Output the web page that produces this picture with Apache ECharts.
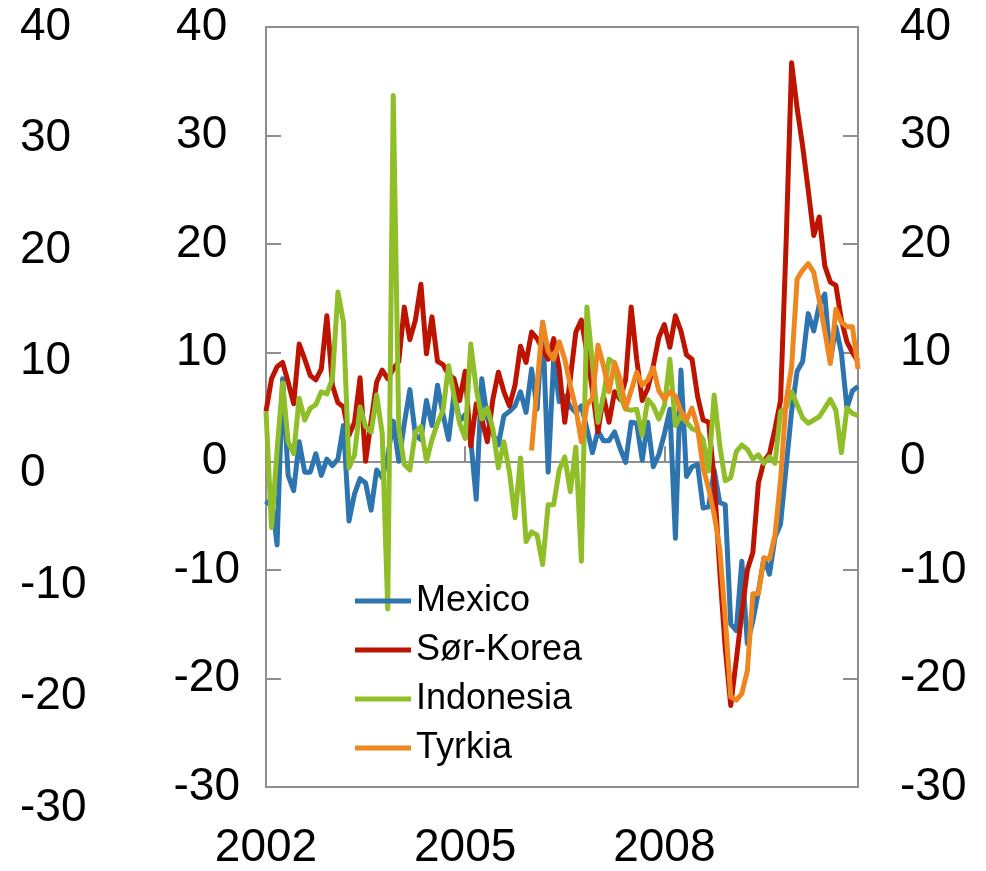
<!DOCTYPE html>
<html>
<head>
<meta charset="utf-8">
<script src="https://cdn.jsdelivr.net/npm/echarts@6/dist/echarts.min.js"></script>
<style>
  html, body { margin: 0; padding: 0; background: #fff; }
  #chart { width: 986px; height: 871px; }
</style>
</head>
<body>
<div id="chart"></div>
<script>
// monthly, Jan 2002 - Dec 2010
const startYear = 2002
const endYear = 2010
const yearLabels = ['2002', '2005', '2008']
const yTicks = [-30, -20, -10, 0, 10, 20, 30, 40]

const mexico = [
  -4.0, -3.4, -7.7, 7.6, -1.3, -2.7, 1.8, -1.0, -1.0, 0.7,
  -1.3, 0.2, -0.4, 0.2, 3.3, -5.5, -3.0, -1.6, -2.0, -4.5,
  -0.8, -1.5, 0.5, 3.7, 0.0, 3.5, 6.6, 2.4, 2.0, 5.6,
  3.3, 7.0, 4.3, 2.0, 6.3, 3.7, 4.3, 2.0, -3.5, 7.6,
  4.0, 2.5, 1.5, 4.2, 4.6, 5.1, 6.4, 4.5, 8.5, 4.8,
  12.8, -1.0, 9.5, 5.5, 6.0, 5.0, 4.5, 5.1, 3.0, 0.8,
  2.8, 1.9, 1.9, 2.7, 1.2, -0.1, 3.6, 3.5, 0.1, 3.6,
  -0.5, 0.6, 2.5, 4.8, -7.1, 8.4, -1.4, -0.5, -0.3, -4.3,
  -4.2, -0.8, -3.8, -4.0, -15.0, -15.6, -9.2, -16.8, -14.7, -12.0,
  -8.9, -10.4, -7.0, -5.8, -0.6, 4.6, 8.3, 9.2, 13.6, 12.0,
  14.4, 15.4, 9.2, 12.4, 10.0, 4.9, 6.5, 6.9
]

const korea = [
  4.6, 7.6, 8.7, 9.1, 7.3, 5.3, 10.8, 9.4, 7.9, 7.5,
  8.5, 13.4, 7.0, 5.4, 5.0, 2.4, 3.6, 7.7, 0.0, 3.7,
  7.3, 8.4, 7.6, 8.5, 9.2, 14.2, 11.2, 13.0, 16.3, 9.9,
  13.3, 9.2, 8.9, 8.0, 7.6, 5.6, 8.3, 1.4, 5.3, 3.9,
  1.8, 5.7, 8.2, 6.4, 5.1, 7.0, 10.6, 9.1, 11.9, 11.3,
  10.3, 9.4, 11.3, 8.5, 3.6, 7.6, 11.9, 13.0, 10.0, 6.5,
  2.7, 6.0, 3.6, 6.4, 5.7, 7.5, 14.2, 9.4, 5.6, 6.7,
  8.8, 11.4, 12.6, 10.5, 13.4, 12.0, 9.8, 9.4, 6.0, 3.8,
  3.6, -1.6, -10.0, -17.2, -22.5, -18.3, -14.0, -10.0, -8.4, -2.0,
  0.0, 0.7, 3.0, 5.6, 20.0, 36.7, 32.5, 29.0, 25.0, 20.8,
  22.5, 18.0, 16.5, 16.2, 13.0, 11.0, 10.0, 9.2
]

const indonesia = [
  4.6, -6.1, 1.0, 7.2, 1.8, 0.7, 5.8, 3.8, 4.9, 5.2,
  6.4, 6.2, 7.6, 15.6, 12.8, -0.6, 0.6, 5.0, 3.2, 2.7,
  6.1, 2.6, -13.6, 33.7, 3.0, -0.3, -0.8, 2.7, 3.2, 0.0,
  2.0, 3.5, 4.7, 8.8, 6.0, 3.5, 2.1, 10.8, 6.7, 3.9,
  4.9, 3.0, -0.6, 1.8, -1.0, -5.2, 0.3, -7.4, -6.5, -6.8,
  -9.5, -4.0, -4.0, -0.8, 0.4, -2.8, 1.3, -9.2, 14.2, 9.0,
  3.6, 6.0, 9.4, 9.0, 6.0, 4.8, 4.7, 4.8, 2.4, 5.7,
  5.1, 3.9, 5.1, 9.4, 3.3, 4.2, 3.6, 3.0, 2.8, 2.0,
  -0.9, 6.1, 1.5, -1.8, -1.5, 0.9, 1.5, 1.1, 0.2, 0.6,
  -0.2, 0.4, -0.2, 4.6, 4.9, 6.4, 5.2, 4.0, 3.5, 3.8,
  4.1, 4.9, 5.7, 4.7, 0.8, 4.9, 4.4, 4.2
]

// Tyrkia starts Jan 2006
const tyrkiaStart = 48
const tyrkia = [
  1.0, 7.0, 12.8, 10.1, 9.4, 11.0, 9.4, 7.0, 4.9, 1.8,
  5.2, 5.8, 10.7, 8.8, 6.4, 9.1, 7.6, 4.9, 6.5, 8.2,
  7.0, 7.5, 8.6, 6.5, 5.7, 6.4, 6.0, 4.6, 3.8, 4.9,
  3.1, -0.6, -2.5, -4.9, -8.0, -14.4, -21.7, -22.0, -21.4, -19.3,
  -12.2, -12.2, -8.9, -9.0, -6.8, -1.7, 5.5, 8.7, 16.8, 17.6,
  18.2, 17.4, 14.8, 12.0, 9.0, 14.0, 12.8, 12.4, 12.4, 8.5
]

const months = []
for (let y = startYear; y <= endYear; y++) {
  for (let m = 1; m <= 12; m++) months.push(y + '-' + (m < 10 ? '0' + m : m))
}
const tyrkiaFull = new Array(tyrkiaStart).fill('-').concat(tyrkia)

const axisGray = '#8f8f8f'
const font = "'Liberation Sans', Arial, sans-serif"
const isYearTick = (i, v) => yearLabels.indexOf(String(v).slice(0, 4)) >= 0 && String(v).slice(5) === '01'

function line(name, data, color) {
  return {
    name: name,
    type: 'line',
    data: data,
    xAxisIndex: 0,
    yAxisIndex: 0,
    showSymbol: false,
    symbol: 'none',
    animation: false,
    lineStyle: { width: 5, color: color, join: 'round' },
    itemStyle: { color: color }
  }
}

const series = [
  line('Mexico', mexico, '#2E74AE'),
  line('Sør-Korea', korea, '#BC1400'),
  line('Indonesia', indonesia, '#8FBE29'),
  line('Tyrkia', tyrkiaFull, '#EE871F')
]
// zero line
series[0].markLine = {
  silent: true,
  symbol: 'none',
  label: { show: false },
  lineStyle: { color: axisGray, width: 2, type: 'solid' },
  data: [{ yAxis: 0 }],
  z: 1
}
series[0].z = 2

const yLabel = { fontSize: 46, color: '#000', fontFamily: font }

const option = {
  backgroundColor: '#fff',
  animation: false,
  grid: [
    { left: 266, right: 128, top: 27, bottom: 81, show: true, borderColor: axisGray, borderWidth: 2 },
    { left: 100, width: 10, top: 27, bottom: 63 }
  ],
  legend: {
    orient: 'vertical',
    left: 350,
    top: 576,
    icon: 'rect',
    itemWidth: 56,
    itemHeight: 5,
    itemGap: 9,
    textStyle: { fontSize: 36, fontFamily: font, color: '#000', lineHeight: 40 },
    data: ['Mexico', 'Sør-Korea', 'Indonesia', 'Tyrkia']
  },
  xAxis: [
    {
      type: 'category',
      gridIndex: 0,
      data: months,
      boundaryGap: false,
      axisLine: { lineStyle: { color: axisGray, width: 2 } },
      axisTick: { inside: true, length: 15, interval: isYearTick, lineStyle: { color: axisGray, width: 2 } },
      axisLabel: {
        interval: isYearTick,
        formatter: v => v.slice(0, 4),
        fontSize: 46, color: '#000', fontFamily: font, margin: 38
      },
      splitLine: { show: false }
    },
    { type: 'value', gridIndex: 1, min: 0, max: 1, show: false }
  ],
  yAxis: [
    {
      type: 'value', gridIndex: 0, position: 'left',
      min: yTicks[0], max: yTicks[yTicks.length - 1], interval: 10,
      axisLine: { show: true, lineStyle: { color: axisGray, width: 2 } },
      axisTick: { show: true, inside: true, length: 15, lineStyle: { color: axisGray, width: 2 } },
      // positive numbers carry a trailing space, as in the original
      axisLabel: Object.assign({ margin: 26, formatter: v => (v >= 0 ? v + ' ' : String(v)) }, yLabel),
      splitLine: { show: false }
    },
    {
      type: 'value', gridIndex: 0, position: 'right',
      min: yTicks[0], max: yTicks[yTicks.length - 1], interval: 10,
      axisLine: { show: true, lineStyle: { color: axisGray, width: 2 } },
      axisTick: { show: true, inside: true, length: 15, lineStyle: { color: axisGray, width: 2 } },
      axisLabel: Object.assign({ margin: 42 }, yLabel),
      splitLine: { show: false }
    },
    {
      type: 'value', gridIndex: 1, position: 'left',
      min: yTicks[0], max: yTicks[yTicks.length - 1], interval: 10,
      axisLine: { show: false },
      axisTick: { show: false },
      axisLabel: Object.assign({ margin: 80, align: 'left' }, yLabel),
      splitLine: { show: false }
    }
  ],
  series: series
}

const chart = echarts.init(document.getElementById('chart'), null, { renderer: 'canvas' })
chart.setOption(option)
</script>
</body>
</html>
